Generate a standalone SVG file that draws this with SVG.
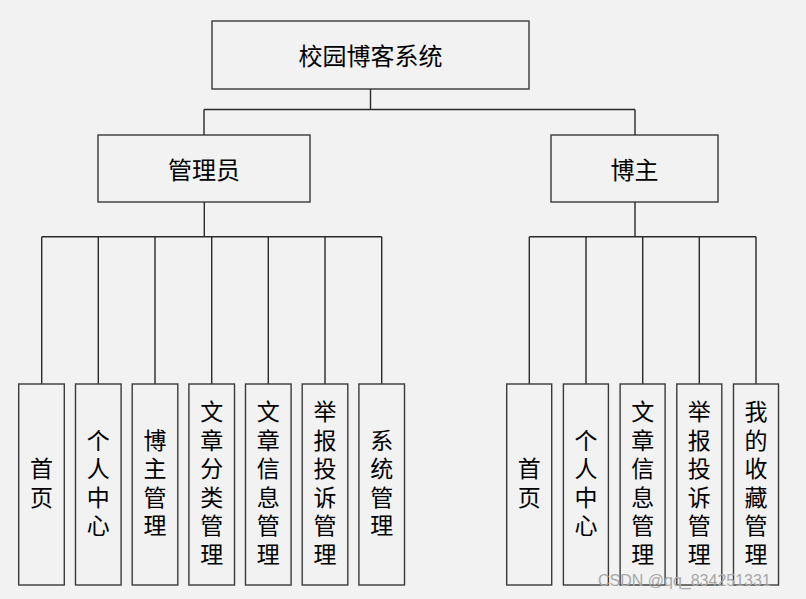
<svg xmlns="http://www.w3.org/2000/svg" width="806" height="599" viewBox="0 0 806 599">
<style>
.bg{fill:#f2f2f2}
.box{fill:#f2f2f2;stroke:#3a3a3a;stroke-width:1.4}
.ln{fill:none;stroke:#2a2a2a;stroke-width:1.4}
.t{font-family:"Noto Sans CJK SC","Noto Sans",sans-serif;font-size:24px;fill:#000;text-anchor:middle;dominant-baseline:central}
.v{font-family:"Liberation Sans","Noto Sans CJK SC",sans-serif;font-size:23px;fill:#000;text-anchor:middle;dominant-baseline:central}
.wm{font-family:"Liberation Sans",Arial,sans-serif;font-size:16px;fill:#a8a8a8}
</style>
<rect class="bg" x="0" y="0" width="806" height="599"/>
<g id="connectors">
<path class="ln" d="M370.5 89V109.5M204 109.5H635M204 109.5V135M635 109.5V135"/>
<path class="ln" d="M204.3 202V236.7M41.7 236.7H381.7M41.7 236.7V384M98.3 236.7V384M155 236.7V384M211.7 236.7V384M268.3 236.7V384M325 236.7V384M381.7 236.7V384"/>
<path class="ln" d="M635 202V236.7M529.3 236.7H756M529.3 236.7V384M586 236.7V384M642.7 236.7V384M699.3 236.7V384M756 236.7V384"/>
</g>
<g id="root"><rect class="box" x="212" y="21" width="317" height="68"/><text class="t" x="370.5" y="54">校园博客系统</text></g>
<g id="admin"><rect class="box" x="98" y="135" width="212" height="67"/><text class="t" x="204" y="168">管理员</text></g>
<g id="blogger"><rect class="box" x="551" y="135" width="167" height="67"/><text class="t" x="634.5" y="168">博主</text></g>
<g id="a1"><rect class="box" x="18.7" y="384" width="45.6" height="201"/><text class="v"><tspan x="41.5" y="469.2">首</tspan><tspan x="41.5" y="497.8">页</tspan></text></g>
<g id="a2"><rect class="box" x="75.5" y="384" width="45.6" height="201"/><text class="v"><tspan x="98.3" y="440.6">个</tspan><tspan x="98.3" y="469.2">人</tspan><tspan x="98.3" y="497.8">中</tspan><tspan x="98.3" y="526.4">心</tspan></text></g>
<g id="a3"><rect class="box" x="132.2" y="384" width="45.6" height="201"/><text class="v"><tspan x="155" y="440.6">博</tspan><tspan x="155" y="469.2">主</tspan><tspan x="155" y="497.8">管</tspan><tspan x="155" y="526.4">理</tspan></text></g>
<g id="a4"><rect class="box" x="188.9" y="384" width="45.6" height="201"/><text class="v"><tspan x="211.7" y="412">文</tspan><tspan x="211.7" y="440.6">章</tspan><tspan x="211.7" y="469.2">分</tspan><tspan x="211.7" y="497.8">类</tspan><tspan x="211.7" y="526.4">管</tspan><tspan x="211.7" y="555">理</tspan></text></g>
<g id="a5"><rect class="box" x="245.5" y="384" width="45.6" height="201"/><text class="v"><tspan x="268.3" y="412">文</tspan><tspan x="268.3" y="440.6">章</tspan><tspan x="268.3" y="469.2">信</tspan><tspan x="268.3" y="497.8">息</tspan><tspan x="268.3" y="526.4">管</tspan><tspan x="268.3" y="555">理</tspan></text></g>
<g id="a6"><rect class="box" x="302.2" y="384" width="45.6" height="201"/><text class="v"><tspan x="325" y="412">举</tspan><tspan x="325" y="440.6">报</tspan><tspan x="325" y="469.2">投</tspan><tspan x="325" y="497.8">诉</tspan><tspan x="325" y="526.4">管</tspan><tspan x="325" y="555">理</tspan></text></g>
<g id="a7"><rect class="box" x="358.9" y="384" width="45.6" height="201"/><text class="v"><tspan x="381.7" y="440.6">系</tspan><tspan x="381.7" y="469.2">统</tspan><tspan x="381.7" y="497.8">管</tspan><tspan x="381.7" y="526.4">理</tspan></text></g>
<g id="b1"><rect class="box" x="506.7" y="384" width="45" height="201"/><text class="v"><tspan x="529.3" y="469.2">首</tspan><tspan x="529.3" y="497.8">页</tspan></text></g>
<g id="b2"><rect class="box" x="563.4" y="384" width="45" height="201"/><text class="v"><tspan x="586" y="440.6">个</tspan><tspan x="586" y="469.2">人</tspan><tspan x="586" y="497.8">中</tspan><tspan x="586" y="526.4">心</tspan></text></g>
<g id="b3"><rect class="box" x="620.1" y="384" width="45" height="201"/><text class="v"><tspan x="642.7" y="412">文</tspan><tspan x="642.7" y="440.6">章</tspan><tspan x="642.7" y="469.2">信</tspan><tspan x="642.7" y="497.8">息</tspan><tspan x="642.7" y="526.4">管</tspan><tspan x="642.7" y="555">理</tspan></text></g>
<g id="b4"><rect class="box" x="676.8" y="384" width="45" height="201"/><text class="v"><tspan x="699.3" y="412">举</tspan><tspan x="699.3" y="440.6">报</tspan><tspan x="699.3" y="469.2">投</tspan><tspan x="699.3" y="497.8">诉</tspan><tspan x="699.3" y="526.4">管</tspan><tspan x="699.3" y="555">理</tspan></text></g>
<g id="b5"><rect class="box" x="733.5" y="384" width="45" height="201"/><text class="v"><tspan x="756" y="412">我</tspan><tspan x="756" y="440.6">的</tspan><tspan x="756" y="469.2">收</tspan><tspan x="756" y="497.8">藏</tspan><tspan x="756" y="526.4">管</tspan><tspan x="756" y="555">理</tspan></text></g>
<text class="wm" x="598" y="586">CSDN @qq_834251331</text>
</svg>
